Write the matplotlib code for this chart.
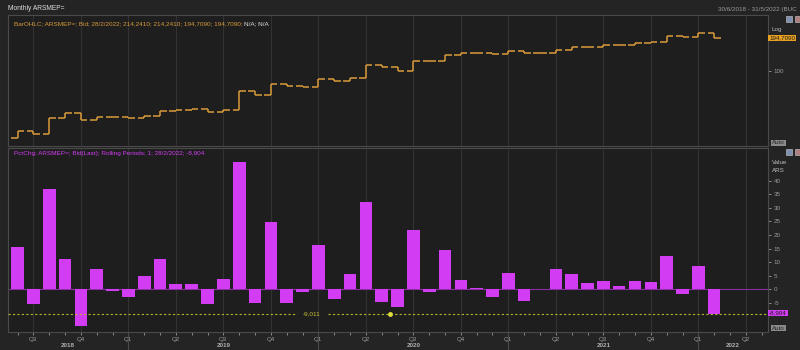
import numpy as np
import matplotlib.pyplot as plt
import matplotlib.transforms as mtransforms
from matplotlib.patches import Rectangle

plt.rcParams['font.family'] = ['Liberation Sans', 'DejaVu Sans']

# Monthly ARSMEP=, Jun 2018 .. Feb 2022 (bar index 0 = Jun 2018)
first_open = 25.6
closes = [29.5, 28.0, 38.5, 42.5, 37.0, 39.7, 39.5, 38.4, 40.3, 44.8, 45.7, 46.6,
          44.1, 45.7, 67.0, 62.0, 77.0, 73.5, 73.0, 84.5, 82.0, 87.0, 114.0, 108.0,
          101.0, 123.0, 122.0, 139.0, 144.0, 145.0, 141.0, 149.0, 143.0, 143.0, 153.0, 161.0,
          164.0, 168.0, 170.0, 175.0, 179.5, 201.0, 197.0, 214.241, 194.709]
pct_chg = [15.7, -5.4, 36.9, 11.1, -13.4, 7.6, -0.5, -2.8, 5.0, 11.1, 2.0, 2.0,
           -5.4, 3.7, 46.7, -5.2, 24.6, -4.9, -1.0, 16.2, -3.6, 5.7, 32.3, -4.8,
           -6.6, 21.9, -0.9, 14.5, 3.4, 0.6, -2.9, 5.9, -4.2, 0.1, 7.4, 5.7,
           2.2, 3.1, 1.4, 3.1, 2.6, 12.3, -1.8, 8.7, -8.904]
ref_level = -8.904
ref_label = '-9,011'
quarter_names = {0: 'Q1', 3: 'Q2', 6: 'Q3', 9: 'Q4'}
years = [2018, 2019, 2020, 2021, 2022]

BG = '#1e1e1e'
FRAME = '#4a4a4a'
GRID = '#323232'
ORANGE = '#d89a3a'
MAGENTA = '#d23cf2'
YELLOW = '#b4b42a'
TXT = '#9a9a9a'

W, H = 800, 350
fig = plt.figure(figsize=(8, 3.5), dpi=100, facecolor='#242424')

def px_rect(l, t, r, b):
    return [l / W, 1 - b / H, (r - l) / W, (b - t) / H]

ax1 = fig.add_axes(px_rect(8, 15, 768, 146), facecolor=BG)
ax2 = fig.add_axes(px_rect(8, 148, 768, 332), facecolor=BG)

n = len(closes)
xs = np.arange(n)
opens = [first_open] + closes[:-1]
xlim = (-0.6, 47.4)

# month index -> calendar month (0 = Jan)
month_of = lambda i: (5 + i) % 12
all_idx = np.arange(-1, 49)
q_pos = [i for i in all_idx if month_of(i) in quarter_names and xlim[0] < i < xlim[1]]
q_lab = [quarter_names[month_of(i)] for i in q_pos]
year_starts = [i for i in all_idx if month_of(i) == 0 and xlim[0] < i < xlim[1]]

for ax in (ax1, ax2):
    ax.set_xlim(*xlim)
    for s in ax.spines.values():
        s.set_color(FRAME)
        s.set_linewidth(0.8)
    for q in q_pos:
        ax.axvline(q, color=GRID, lw=0.8, zorder=0)
    ax.yaxis.tick_right()
    ax.tick_params(axis='y', colors=TXT, labelsize=4.5, length=2, width=0.6, pad=2)

# top panel: OHLC bars on log scale
ax1.set_yscale('log')
ax1.set_ylim(22.0, 310)
for i in xs:
    o, c = opens[i], closes[i]
    ax1.vlines(i, min(o, c), max(o, c), color=ORANGE, lw=1.1)
    ax1.hlines(o, i - 0.42, i, color=ORANGE, lw=1.1)
    ax1.hlines(c, i, i + 0.42, color=ORANGE, lw=1.1)
ax1.set_yticks([100])
ax1.set_yticklabels(['100'])
ax1.yaxis.set_minor_locator(plt.NullLocator())
ax1.set_xticks([])
ax1.text(0.008, 0.955, 'BarOHLC; ARSMEP=; Bid; 28/2/2022; 214,2410; 214,2410; 194,7090; 194,7090;',
         transform=ax1.transAxes, color=ORANGE, fontsize=4.6, va='top')
ax1.text(0.311, 0.955, 'N/A; N/A', transform=ax1.transAxes, color='#dddddd', fontsize=4.6, va='top')

# bottom panel: percent change bars
ax2.set_ylim(-15.7, 52)
ax2.bar(xs, pct_chg, width=0.8, color=MAGENTA, zorder=3)
ax2.axhline(0, color='#8a2fa0', lw=0.8, zorder=2)
ax2.plot([xlim[0], 17.6], [ref_level, ref_level], ls=(0, (2, 2)), color=YELLOW, lw=0.8, zorder=4)
ax2.plot([19.6, xlim[1]], [ref_level, ref_level], ls=(0, (2, 2)), color=YELLOW, lw=0.8, zorder=4)
ax2.text(18.6, ref_level, ref_label, color='#c8c030', fontsize=4.6, ha='center', va='center', zorder=5)
ax2.plot([23.5], [ref_level], 'o', color='#dede3a', ms=2.5, zorder=5)
ax2.set_yticks(np.arange(-5, 45, 5))
ax2.set_yticklabels([str(v) for v in range(-5, 45, 5)])
ax2.set_xticks(q_pos)
ax2.set_xticklabels(q_lab)
ax2.set_xticks(np.arange(0, 48), minor=True)
ax2.tick_params(axis='x', which='both', colors=TXT, labelsize=4.5, length=2, width=0.6, pad=1.5)
ax2.text(0.008, 0.985, 'PctChg; ARSMEP=; Bid(Last); Rolling Periods; 1; 28/2/2022; -8,904',
         transform=ax2.transAxes, color=MAGENTA, fontsize=4.6, va='top')

trans = mtransforms.blended_transform_factory(ax2.transData, ax2.transAxes)
for ys in year_starts:
    ax2.plot([ys, ys], [0, -0.1], color=FRAME, lw=0.8, transform=trans, clip_on=False)
bounds = [xlim[0]] + year_starts + [xlim[1]]
for k, yr in enumerate(years):
    ax2.text((bounds[k] + bounds[k + 1]) / 2, -0.076, str(yr), transform=trans,
             color='#b0b0b0', fontsize=4.5, fontweight='bold', ha='center', va='center')

# right-hand labels and boxes
def box(x, y, s, fc, tc):
    fig.text(x / W, 1 - y / H, s, fontsize=4.5, color=tc, va='center', ha='left',
             bbox=dict(boxstyle='square,pad=0.15', fc=fc, ec='none'))

fig.text(772 / W, 1 - 29 / H, 'Log', fontsize=4.5, color='#bbbbbb', va='center')
box(769, 38, '194,7090', '#e8a020', '#1a1a1a')
box(772, 143, 'Auto', '#8a8a8a', '#222222')
fig.text(772 / W, 1 - 162 / H, 'Value', fontsize=4.5, color='#bbbbbb', va='center')
fig.text(772 / W, 1 - 171 / H, 'ARS', fontsize=4.5, color='#bbbbbb', va='center')
box(769, 313, '-8,904', MAGENTA, '#1a1a1a')
box(772, 328, 'Auto', '#8a8a8a', '#222222')
for yy in (19, 152):
    fig.patches.append(Rectangle((786 / W, 1 - (yy + 3) / H), 6 / W, 6 / H, transform=fig.transFigure,
                                 fc='#8090b0', ec='#cccccc', lw=0.4))
    fig.patches.append(Rectangle((795 / W, 1 - (yy + 3) / H), 6 / W, 6 / H, transform=fig.transFigure,
                                 fc='#b08080', ec='#cccccc', lw=0.4))

fig.text(8 / W, 1 - 9 / H, 'Monthly ARSMEP=', fontsize=4.8, color='#dddddd', va='center')
fig.text(718 / W, 1 - 10 / H, '30/6/2018 - 31/5/2022 (BUC', fontsize=4.5, color=TXT, va='center')

fig.savefig('out.png', dpi=100, facecolor=fig.get_facecolor())
